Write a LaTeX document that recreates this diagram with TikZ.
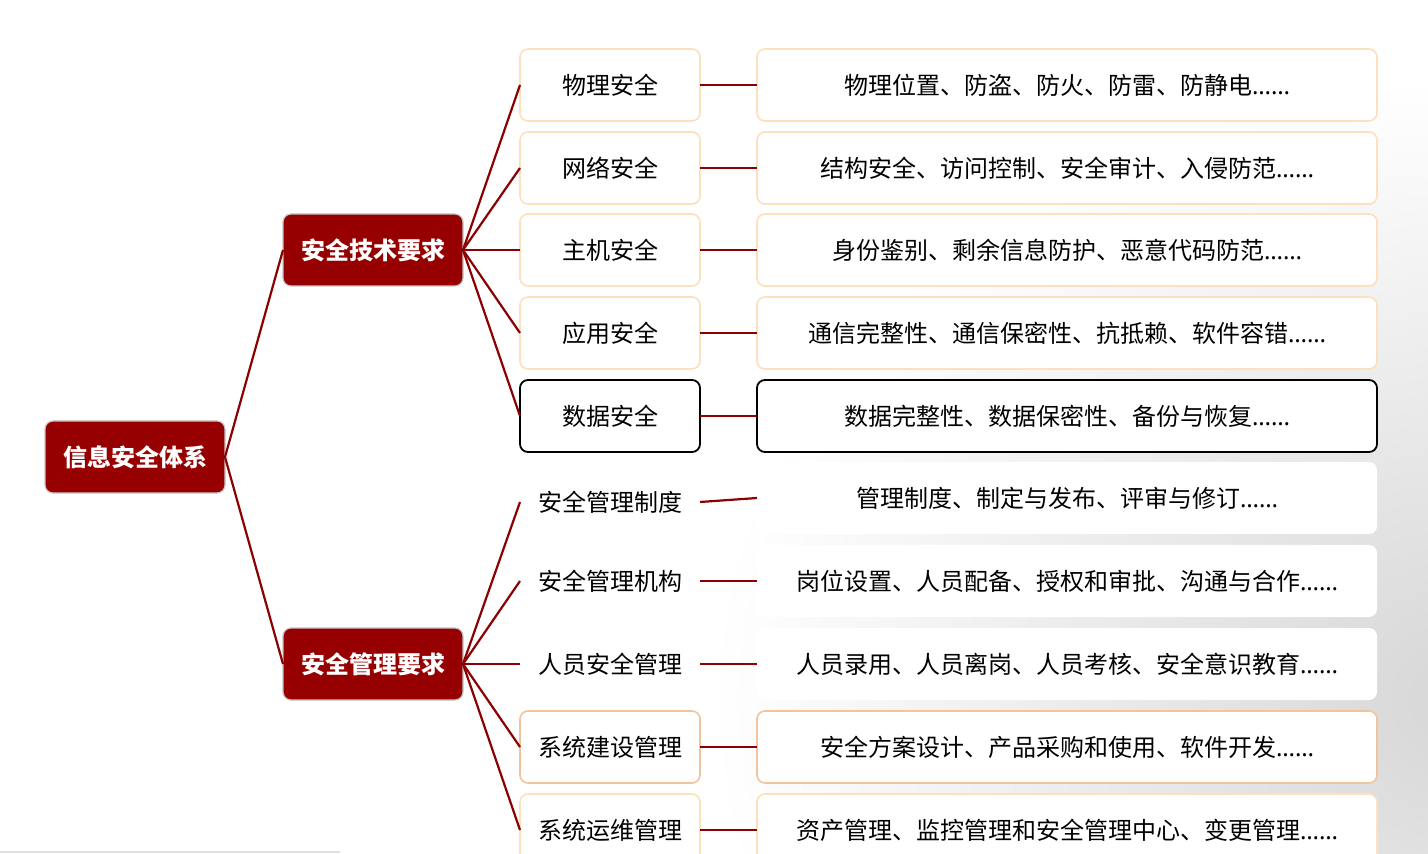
\documentclass[tikz,border=0pt]{standalone}
\usepackage{fontspec}
\setmainfont{Noto Sans CJK SC}
\newfontfamily\latinf{Noto Sans}
\definecolor{dkred}{HTML}{970000}
\definecolor{lnred}{HTML}{8B0000}
\definecolor{orlight}{HTML}{FDE0BC}
\definecolor{ordark}{HTML}{F0C49C}
\newcommand{\myellip}{{\latinf ……}}
\begin{document}
\begin{tikzpicture}[x=0.5pt,y=-0.5pt,
  every node/.style={inner sep=0pt,outer sep=0pt},
  txt/.style={font=\fontsize{12}{14}\selectfont, text=black},
  topbox/.style={draw=gray!45, line width=0.6pt, fill=dkred, rounded corners=4pt,
     minimum width=90pt, minimum height=36pt, text=white,
     font=\fontsize{12}{14}\selectfont\bfseries},
  lvtwo/.style={txt, fill=white, rounded corners=4pt, minimum width=90pt, minimum height=36pt},
  lvthree/.style={txt, fill=white, rounded corners=4pt, minimum width=310pt, minimum height=36pt},
  borl/.style={draw=orlight, line width=0.8pt},
  bord/.style={draw=ordark, line width=0.8pt},
  borb/.style={draw=black, line width=0.9pt},
  conn/.style={draw=lnred, line width=1.1pt}]
\useasboundingbox (0,0) rectangle (1428,854);
\begin{scope}
\clip (0,0) rectangle (1428,854);
\fill[white] (0,0) rectangle (1428,854);
\shade[inner color=gray!32, outer color=white] (1470,700) ellipse (760 and 620);
\end{scope}
\draw[gray!25, line width=1pt] (0,852) -- (340,852);

\node[topbox] (root) at (135,457) {信息安全体系};
\node[topbox] (tech) at (373,250) {安全技术要求};
\node[topbox] (mgmt) at (373,664) {安全管理要求};

\node[lvtwo,borl] (a1) at (610,85) {物理安全};
\node[lvtwo,borl] (a2) at (610,168) {网络安全};
\node[lvtwo,borl] (a3) at (610,250) {主机安全};
\node[lvtwo,borl] (a4) at (610,333) {应用安全};
\node[lvtwo,borb] (a5) at (610,416) {数据安全};
\node[lvtwo] (b1) at (610,502) {安全管理制度};
\node[lvtwo] (b2) at (610,581) {安全管理机构};
\node[lvtwo] (b3) at (610,664) {人员安全管理};
\node[lvtwo,bord] (b4) at (610,747) {系统建设管理};
\node[lvtwo,borl] (b5) at (610,830) {系统运维管理};

\node[lvthree,borl] (c1) at (1067,85) {物理位置、防盗、防火、防雷、防静电\myellip};
\node[lvthree,borl] (c2) at (1067,168) {结构安全、访问控制、安全审计、入侵防范\myellip};
\node[lvthree,borl] (c3) at (1067,250) {身份鉴别、剩余信息防护、恶意代码防范\myellip};
\node[lvthree,borl] (c4) at (1067,333) {通信完整性、通信保密性、抗抵赖、软件容错\myellip};
\node[lvthree,borb] (c5) at (1067,416) {数据完整性、数据保密性、备份与恢复\myellip};
\node[lvthree] (d1) at (1067,498) {管理制度、制定与发布、评审与修订\myellip};
\node[lvthree] (d2) at (1067,581) {岗位设置、人员配备、授权和审批、沟通与合作\myellip};
\node[lvthree] (d3) at (1067,664) {人员录用、人员离岗、人员考核、安全意识教育\myellip};
\node[lvthree,bord] (d4) at (1067,747) {安全方案设计、产品采购和使用、软件开发\myellip};
\node[lvthree,borl] (d5) at (1067,830) {资产管理、监控管理和安全管理中心、变更管理\myellip};

\draw[conn] (root.east) -- (tech.west);
\draw[conn] (root.east) -- (mgmt.west);
\foreach \n in {a1,a2,a3,a4,a5} \draw[conn] (tech.east) -- (\n.west);
\foreach \n in {b1,b2,b3,b4,b5} \draw[conn] (mgmt.east) -- (\n.west);
\draw[conn] (a1.east) -- (c1.west);
\draw[conn] (a2.east) -- (c2.west);
\draw[conn] (a3.east) -- (c3.west);
\draw[conn] (a4.east) -- (c4.west);
\draw[conn] (a5.east) -- (c5.west);
\draw[conn] (b1.east) -- (d1.west);
\draw[conn] (b2.east) -- (d2.west);
\draw[conn] (b3.east) -- (d3.west);
\draw[conn] (b4.east) -- (d4.west);
\draw[conn] (b5.east) -- (d5.west);
\end{tikzpicture}
\end{document}
